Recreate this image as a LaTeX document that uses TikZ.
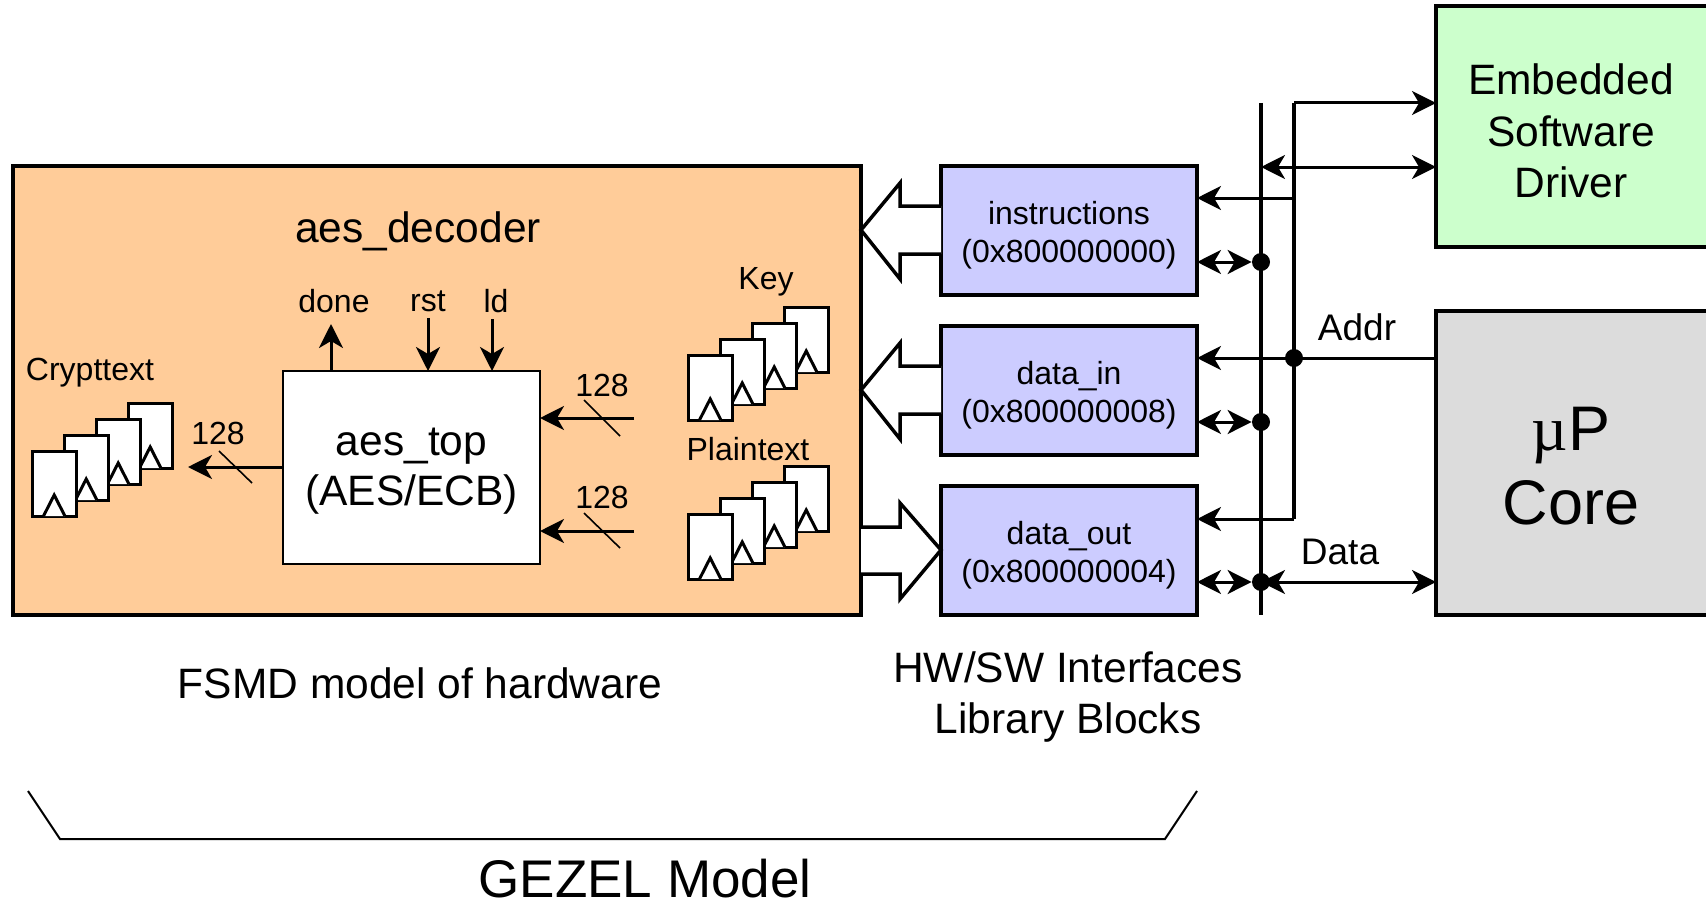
\documentclass[tikz,border=0pt]{standalone}
\usepackage{fontspec}
\setmainfont{Liberation Sans}
\newfontfamily\serifmu{Liberation Serif}
\usepackage{xcolor}
\definecolor{FsmdOrange}{HTML}{FFCC99}
\definecolor{IfaceBlue}{HTML}{CCCCFF}
\definecolor{SoftGreen}{HTML}{CCFFCC}
\definecolor{CoreGrey}{HTML}{DCDCDC}
\usetikzlibrary{arrows.meta,positioning,calc}
\newcommand{\smalltxt}{\fontsize{16}{19}\selectfont}
\newcommand{\midtxt}{\fontsize{21.25}{25.8}\selectfont}
\newcommand{\regstack}[2]{%
  \foreach \i in {3,2,1,0} {
    \draw[regline,fill=white] ($(#1,#2)+(32*\i,-16*\i)$) rectangle ++(44.5,65);
    \draw[regline,fill=white] ($(#1,#2)+(32*\i,-16*\i)+(11.5,65)$) -- ++(10.7,-21) -- ++(10.7,21);
  }}

\begin{document}
\begin{tikzpicture}[
  x=0.5pt,y=-0.5pt,
  block/.style={draw,line width=1.75pt,align=center,outer sep=0pt,inner sep=0pt},
  fsmd/.style={block,fill=FsmdOrange,minimum width=424pt,minimum height=224.5pt},
  iface/.style={block,fill=IfaceBlue,font=\smalltxt,minimum width=128pt,minimum height=64.5pt,text height=35pt},
  endbox/.style={fill=#1,outer sep=0pt,inner sep=0pt,align=center,minimum width=135pt},
  endline/.style={line width=1.75pt,line join=miter},
  txt/.style={font=\smalltxt,inner sep=0pt},
  regline/.style={line width=1.5pt,line join=miter},
  arr/.style={-{Stealth[length=12pt,width=12pt,inset=3.5pt]},line width=1.5pt},
  darr/.style={{Stealth[length=12pt,width=12pt,inset=3.5pt]}-{Stealth[length=12pt,width=12pt,inset=3.5pt]},line width=1.5pt},
  busline/.style={line width=1.75pt},
  dot/.style={circle,fill=black,inner sep=0pt,minimum size=9pt},
  fat/.style={draw,fill=white,line width=1.75pt,line join=miter},
  tick/.style={line width=0.8pt}
]
  \useasboundingbox (0,0) rectangle (1706,904);

  % hardware side
  \node[fsmd,anchor=north west] (dec) at (13,166) {};
  \node[font=\midtxt,inner sep=0pt] (declabel) at (418,231) {aes\_decoder};
  \node[block,line width=1.4pt,fill=white,font=\fontsize{21.25}{25.3}\selectfont,minimum width=128.5pt,minimum height=96.5pt,anchor=north west,text height=42.5pt] (top) at (283,371) {aes\_top\\(AES/ECB)};

  \regstack{32}{451}
  \regstack{688}{355}
  \regstack{688}{514}
  \node[txt] (crypt) at (90,373) {Crypttext};
  \node[txt] (key) at (766,282) {Key};
  \node[txt] (plain) at (748,449) {Plaintext};

  \node[txt] (done) at (334,301) {done};
  \node[txt] (rst) at (428,301) {rst};
  \node[txt] (ld) at (496,301) {ld};
  \draw[arr] (top.north -| done) ++(-3,0) -- ++(0,-47);
  \draw[arr] (rst.south) ++(0,6) -- (top.north -| rst);
  \draw[arr] (ld.south) ++(-4,6) -- (top.north -| 492,0);

  % 128 bit busses
  \coordinate (keyin) at (634,418);
  \coordinate (plainin) at (634,531);
  \coordinate (cryptout) at (188,467);
  \draw[arr] (keyin) -- (top.east |- keyin);
  \draw[arr] (plainin) -- (top.east |- plainin);
  \draw[arr] (top.west |- cryptout) -- (cryptout);
  \draw[tick] (584,400) -- (620,436);
  \draw[tick] (584,513) -- (620,548);
  \draw[tick] (219,451) -- (252,483);
  \node[txt] (wkey) at (602,385) {128};
  \node[txt] (wplain) at (602,497) {128};
  \node[txt] (wcrypt) at (218,433) {128};

  % interface blocks
  \node[iface,anchor=north west] (instr) at (941,166) {instructions\\(0x800000000)};
  \node[iface,below=15.5pt of instr] (datain) {data\_in\\(0x800000008)};
  \node[iface,below=15.5pt of datain] (dataout) {data\_out\\(0x800000004)};

  % fat arrows between the model and the blocks
  \draw[fat] (instr.west |- 0,206) -- (900,206) -- (900,183) -- (861,230) -- (900,279) -- (900,254) -- (instr.west |- 0,254);
  \draw[fat] (datain.west |- 0,366) -- (900,366) -- (900,343) -- (861,390) -- (900,439) -- (900,414) -- (datain.west |- 0,414);
  \draw[fat] (dec.east |- 0,527) -- (900,527) -- (900,503) -- (dataout.west |- 0,550) -- (900,599) -- (900,574) -- (dec.east |- 0,574);

  % software side, both run off the right of the page
  \node[endbox=SoftGreen,font=\midtxt,minimum height=120.5pt,anchor=north west,text height=71.5pt] (sw) at (1436,6) {Embedded\\Software\\Driver};
  \node[endbox=CoreGrey,font=\fontsize{31.5}{37}\selectfont,minimum height=152pt,anchor=north west,text height=62pt] (core) at (1436,311) {{\serifmu µ}P\\Core};
  \draw[endline] (sw.north east) -- (sw.north west) -- (sw.south west) -- (sw.south east);
  \draw[endline] (core.north east) -- (core.north west) -- (core.south west) -- (core.south east);

  % address and data lines
  \coordinate (bustop) at (1261,103);
  \coordinate (busbot) at (1261,615);
  \coordinate (addrtop) at (1294,103);
  \node[dot] (addrdot) at (1294,358) {};
  \coordinate (addrbot) at (1294,519);
  \node[dot] (dotinstr) at (1261,262) {};
  \node[dot] (dotin) at (1261,422) {};
  \node[dot] (dotout) at (1261,582) {};
  \draw[busline] (bustop) -- (busbot);
  \draw[busline] (addrbot) -- (addrtop);
  \draw[arr] (addrtop) -- (sw.west |- addrtop);
  \draw[darr] (bustop |- 0,167) -- (sw.west |- 0,167);
  \draw[arr] (addrtop |- 0,198) -- (instr.east |- 0,198);
  \draw[arr] (core.west |- addrdot) -- (datain.east |- addrdot);
  \draw[arr] (addrbot) -- (dataout.east |- addrbot);
  \draw[darr] (instr.east |- dotinstr) -- (dotinstr);
  \draw[darr] (datain.east |- dotin) -- (dotin);
  \draw[darr] (dataout.east |- dotout) -- (dotout);
  \draw[darr] (dotout.center) -- (core.west |- dotout);
  \node[font=\fontsize{18.5}{22}\selectfont,inner sep=0pt] (addr) at (1357,327) {Addr};
  \node[font=\fontsize{18.5}{22}\selectfont,inner sep=0pt] (data) at (1340,552) {Data};

  % captions
  \node[font=\midtxt,inner sep=0pt] (fsmdcap) at (420,683) {FSMD model of hardware};
  \node[font=\midtxt,align=center,inner sep=0pt] (ifcap) at (1068,697) {HW/SW Interfaces\\Library Blocks};
  \coordinate (bl) at (28,791);
  \coordinate (bm) at (60,839);
  \coordinate (bn) at (1165,839);
  \coordinate (br) at (1197,791);
  \draw[line width=1pt] (bl) -- (bm) -- (bn) -- (br);
  \node[font=\fontsize{26.5}{32}\selectfont,inner sep=0pt] (gezel) at (645,879) {GEZEL Model};
\end{tikzpicture}
\end{document}
